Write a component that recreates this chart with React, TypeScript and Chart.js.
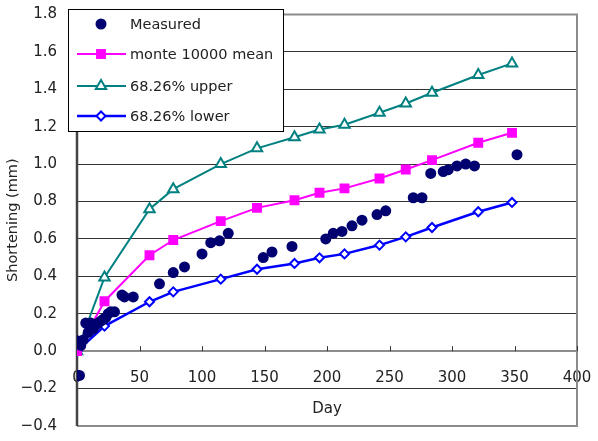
import React, { useEffect, useRef } from 'react';
import { Chart, registerables } from 'chart.js';
import { drawPoint } from 'chart.js/helpers';

Chart.register(...registerables);

// ---- Data ----
const measuredDay = [0.5, 2, 0, 3, 5, 7, 9, 11, 13, 15, 17, 19, 21, 23, 25, 27, 30, 36, 38, 45, 66, 77, 86, 100, 107, 114, 121, 149, 156, 172, 199, 205, 212, 220, 228, 240, 247, 269, 276, 283, 293, 297, 304, 311, 318, 352];
const measuredVal = [-0.13, -0.13, 0.055, 0.03, 0.06, 0.15, 0.1, 0.15, 0.12, 0.14, 0.15, 0.16, 0.17, 0.18, 0.2, 0.21, 0.21, 0.3, 0.29, 0.29, 0.36, 0.42, 0.45, 0.52, 0.58, 0.59, 0.63, 0.5, 0.53, 0.56, 0.6, 0.63, 0.64, 0.67, 0.7, 0.73, 0.75, 0.82, 0.82, 0.95, 0.96, 0.97, 0.99, 1.0, 0.99, 1.05];

const modelDay = [0, 22, 58, 77, 115, 144, 174, 194, 214, 242, 263, 284, 321, 348];
const meanVal = [0, 0.267, 0.513, 0.594, 0.695, 0.766, 0.807, 0.847, 0.87, 0.923, 0.971, 1.021, 1.114, 1.167];
const upperVal = [0, 0.394, 0.759, 0.866, 1.0, 1.084, 1.143, 1.185, 1.21, 1.274, 1.324, 1.381, 1.476, 1.538];
const lowerVal = [0, 0.134, 0.264, 0.317, 0.385, 0.438, 0.469, 0.499, 0.52, 0.567, 0.611, 0.661, 0.745, 0.795];

const seriesNames = ['Measured', 'monte 10000 mean', '68.26% upper', '68.26% lower'];

const xTicks = [0, 50, 100, 150, 200, 250, 300, 350, 400];
const xTickLabels = ['0', '50', '100', '150', '200', '250', '300', '350', '400'];
const yTicks = [-0.4, -0.2, 0, 0.2, 0.4, 0.6, 0.8, 1.0, 1.2, 1.4, 1.6, 1.8];
const yTickLabels = ['\u22120.4', '\u22120.2', '0.0', '0.2', '0.4', '0.6', '0.8', '1.0', '1.2', '1.4', '1.6', '1.8'];

const xTitle = 'Day';
const yTitle = 'Shortening (mm)';

const FONT = 'DejaVu Sans';

const toPts = (xs: number[], ys: number[]) => xs.map((x, i) => ({ x, y: ys[i] }));

const framePlugin = {
  id: 'frame',
  beforeDatasetsDraw(chart: any) {
    const { ctx, chartArea: a, scales } = chart;
    ctx.save();
    ctx.strokeStyle = '#8c8c8c';
    ctx.lineWidth = 2;
    ctx.beginPath();
    ctx.moveTo(a.left, a.top);
    ctx.lineTo(a.right, a.top);
    ctx.lineTo(a.right, a.bottom);
    ctx.lineTo(a.left, a.bottom);
    ctx.stroke();
    const y0 = scales.y.getPixelForValue(0);
    ctx.strokeStyle = '#333';
    ctx.lineWidth = 1;
    xTicks.forEach((t) => {
      if (t === 0) return;
      const px = Math.round(scales.x.getPixelForValue(t)) + 0.5;
      ctx.beginPath();
      ctx.moveTo(px, y0);
      ctx.lineTo(px, y0 - 5);
      ctx.stroke();
    });
    ctx.strokeStyle = '#444';
    ctx.lineWidth = 2.5;
    ctx.beginPath();
    ctx.moveTo(a.left, a.top);
    ctx.lineTo(a.left, a.bottom);
    ctx.stroke();
    ctx.restore();
  },
};

const legendPlugin = {
  id: 'boxLegend',
  afterDraw(chart: any) {
    const { ctx, chartArea: a } = chart;
    const bx = a.left - 9;
    const by = 9;
    const bw = 215;
    const bh = 122;
    ctx.save();
    ctx.fillStyle = '#fff';
    ctx.fillRect(bx, by, bw, bh);
    ctx.strokeStyle = '#000';
    ctx.lineWidth = 1;
    ctx.strokeRect(bx + 0.5, by + 0.5, bw, bh);
    const rows = [24, 54, 86, 116];
    chart.data.datasets.forEach((ds: any, i: number) => {
      const y = rows[i];
      if (ds.showLine) {
        ctx.strokeStyle = ds.borderColor;
        ctx.lineWidth = ds.borderWidth;
        ctx.beginPath();
        ctx.moveTo(bx + 9, y);
        ctx.lineTo(bx + 58, y);
        ctx.stroke();
      }
      ctx.fillStyle = ds.pointBackgroundColor;
      ctx.strokeStyle = ds.pointBorderColor;
      ctx.lineWidth = ds.pointBorderWidth;
      drawPoint(ctx, { pointStyle: ds.pointStyle, radius: ds.pointRadius, borderWidth: ds.pointBorderWidth, rotation: 0 } as any, bx + 33, y);
      ctx.fillStyle = '#222';
      ctx.font = `14.5px "${FONT}"`;
      ctx.textBaseline = 'middle';
      ctx.textAlign = 'left';
      ctx.fillText(ds.label, bx + 62, y + 1);
    });
    ctx.restore();
  },
};

export default function App() {
  const ref = useRef<HTMLCanvasElement | null>(null);
  useEffect(() => {
    if (!ref.current) return;
    const chart = new Chart(ref.current, {
      type: 'scatter',
      data: {
        datasets: [
          {
            label: seriesNames[0],
            data: toPts(measuredDay, measuredVal),
            showLine: false,
            pointStyle: 'circle',
            pointRadius: 5.5,
            pointBorderWidth: 0,
            pointBackgroundColor: '#000070',
            pointBorderColor: '#000070',
            borderColor: '#000070',
            backgroundColor: '#000070',
          },
          {
            label: seriesNames[1],
            data: toPts(modelDay, meanVal),
            showLine: true,
            borderColor: '#ff00ff',
            borderWidth: 2,
            pointStyle: 'rect',
            pointRadius: 7,
            pointBorderWidth: 0,
            pointBackgroundColor: '#ff00ff',
            pointBorderColor: '#ff00ff',
            backgroundColor: '#ff00ff',
          },
          {
            label: seriesNames[2],
            data: toPts(modelDay, upperVal),
            showLine: true,
            borderColor: '#008080',
            borderWidth: 2,
            pointStyle: 'triangle',
            pointRadius: 6,
            pointBorderWidth: 2,
            pointBackgroundColor: '#ffffff',
            pointBorderColor: '#008080',
            backgroundColor: '#008080',
          },
          {
            label: seriesNames[3],
            data: toPts(modelDay, lowerVal),
            showLine: true,
            borderColor: '#0000ff',
            borderWidth: 2.5,
            pointStyle: 'rectRot',
            pointRadius: 4.5,
            pointBorderWidth: 2,
            pointBackgroundColor: '#ffffff',
            pointBorderColor: '#0000ff',
            backgroundColor: '#0000ff',
          },
        ] as any,
      },
      options: {
        responsive: false,
        animation: false,
        events: [],
        layout: { padding: { left: 0, top: 14.4, right: 21, bottom: 15 } },
        plugins: { legend: { display: false }, tooltip: { enabled: false } },
        elements: { line: { tension: 0 } },
        scales: {
          x: {
            type: 'linear',
            min: 0,
            max: 400,
            position: { y: 0 } as any,
            afterBuildTicks: (s: any) => {
              s.ticks = xTicks.map((v) => ({ value: v }));
            },
            ticks: {
              padding: 0,
              color: '#222',
              font: { family: FONT, size: 15 },
              callback: (_v: any, i: number) => xTickLabels[i],
              maxRotation: 0,
              autoSkip: false,
            },
            grid: { display: false, drawTicks: true, tickLength: 18.4, tickColor: 'rgba(0,0,0,0)' },
            border: { display: true, color: '#8c8c8c', width: 2 },
            title: {
              display: true,
              text: xTitle,
              color: '#222',
              font: { family: FONT, size: 15 },
              padding: { top: 12.6, bottom: 4 },
            },
          },
          y: {
            type: 'linear',
            min: -0.4,
            max: 1.8,
            afterBuildTicks: (s: any) => {
              s.ticks = yTicks.map((v) => ({ value: v }));
            },
            afterFit: (s: any) => {
              s.width = 77;
            },
            ticks: {
              padding: 0,
              color: '#222',
              font: { family: FONT, size: 15 },
              callback: (_v: any, i: number) => yTickLabels[i],
              autoSkip: false,
            },
            grid: { color: '#333', lineWidth: 1, drawTicks: true, tickLength: 20, tickColor: 'rgba(0,0,0,0)' },
            border: { display: false },
            title: {
              display: true,
              text: yTitle,
              color: '#222',
              font: { family: FONT, size: 14.5 },
              padding: { top: 5, bottom: 0 },
            },
          },
        },
      } as any,
      plugins: [framePlugin, legendPlugin],
    });
    return () => chart.destroy();
  }, []);
  return (
    <div style={{ position: 'absolute', left: 0, top: 0, width: 598, height: 441, background: '#fff' }}>
      <canvas ref={ref} width={598} height={441} style={{ display: 'block' }} />
    </div>
  );
}
